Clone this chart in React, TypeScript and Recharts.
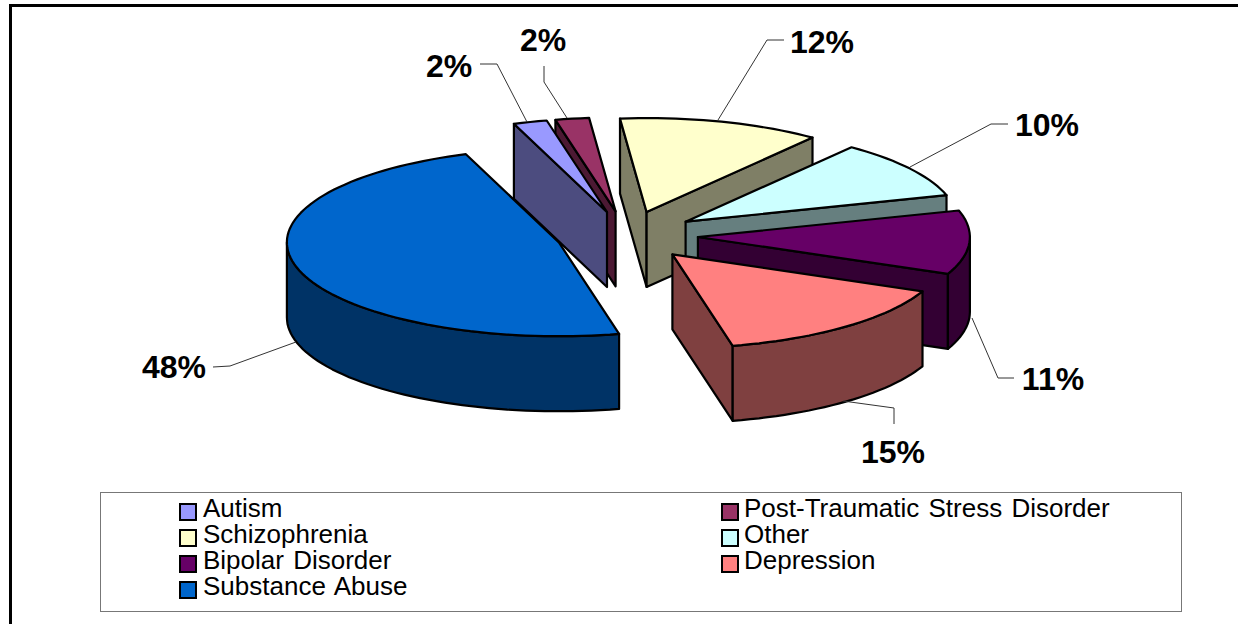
import { Legend, Pie, PieChart } from 'recharts'

// share of clients by primary diagnosis, clockwise from the upper left
const diagnoses = [
  'Autism',
  'Post-Traumatic Stress Disorder',
  'Schizophrenia',
  'Other',
  'Bipolar Disorder',
  'Depression',
  'Substance Abuse',
]
const shares = [2, 2, 12, 10, 11, 15, 48]
const topColors = ['#9999FF', '#993366', '#FFFFCC', '#CCFFFF', '#660066', '#FF8080', '#0066CC']
const wallColors = ['#4C4C7F', '#4C1933', '#7F7F66', '#667F7F', '#330033', '#7F4040', '#003366']

// [text x, text y, then the leader polyline]
const callouts: [number, number, [number, number][]][] = [
  [449, 66, [[480, 64], [497, 64], [527, 122]]],
  [543, 40, [[544, 66], [544, 82], [567, 118]]],
  [822, 42, [[784, 40], [767, 40], [718, 120]]],
  [1047, 125, [[1008, 124], [991, 124], [910, 167]]],
  [1053, 379, [[1014, 378], [998, 378], [972, 318]]],
  [893, 452, [[894, 424], [894, 408], [843, 401]]],
  [174, 367, [[213, 367], [230, 366], [296, 342]]],
]

const rows = diagnoses.map((name, i) => ({ name, value: shares[i], fill: topColors[i], wall: wallColors[i] }))

const FONT = '"Liberation Sans", Arial, sans-serif'
const SQUASH = 0.345 // flattening of the disc
const DEPTH = 75 // disc thickness
const EXPLODE = 71 // how far each slice is pulled out
const BEHIND = 'Post-Traumatic Stress Disorder' // sits behind its neighbour, so it is painted first

type Pt = [number, number]
const toPath = (pts: Pt[]) => 'M' + pts.map(p => `${p[0].toFixed(1)},${p[1].toFixed(1)}`).join('L') + 'Z'
const drop = (pts: Pt[]): Pt[] => [...pts, ...[...pts].reverse().map(p => [p[0], p[1] + DEPTH] as Pt)]

function Slice3D(props: any) {
  const { cx, cy, outerRadius, startAngle, endAngle, payload } = props
  const R = outerRadius
  // Recharts angles run counter-clockwise, screen angles clockwise
  const t0 = -startAngle
  const t1 = -endAngle
  const mid = (t0 + t1) / 2
  const rad = (d: number) => (d * Math.PI) / 180
  const ax = cx + EXPLODE * Math.cos(rad(mid))
  const ay = cy + EXPLODE * SQUASH * Math.sin(rad(mid))
  const at = (t: number): Pt => [ax + R * Math.cos(rad(t)), ay + R * SQUASH * Math.sin(rad(t))]

  const arc = (from: number, to: number) => {
    const pts: Pt[] = []
    const n = Math.max(2, Math.ceil((to - from) / 2))
    for (let i = 0; i <= n; i++) pts.push(at(from + ((to - from) * i) / n))
    return pts
  }

  const apex: Pt = [ax, ay]
  const first = at(t0)
  const last = at(t1)
  const walls: string[] = []
  // a side wall faces the viewer when its edge runs leftwards going clockwise
  if (first[0] < apex[0]) walls.push(toPath(drop([apex, first])))
  if (apex[0] < last[0]) walls.push(toPath(drop([last, apex])))
  // rim is visible only on the front half of the disc
  for (const k of [0, 360]) {
    const from = Math.max(t0, k)
    const to = Math.min(t1, k + 180)
    if (to > from) walls.push(toPath(drop(arc(from, to))))
  }

  return (
    <g stroke="#000" strokeWidth={2.2} strokeLinejoin="round">
      {walls.map((d, i) => <path key={i} d={d} fill={payload.wall} />)}
      <path d={toPath([apex, ...arc(t0, t1)])} fill={payload.fill} />
    </g>
  )
}

const BackSlice = (props: any) => (props.payload.name === BEHIND ? <Slice3D {...props} /> : <g />)
const FrontSlice = (props: any) => (props.payload.name === BEHIND ? <g /> : <Slice3D {...props} />)

function Callout(props: any) {
  const [tx, ty, line] = callouts[props.index]
  return (
    <g>
      <polyline points={line.map(p => p.join(',')).join(' ')} fill="none" stroke="#333" strokeWidth={1} />
      <text x={tx} y={ty} textAnchor="middle" dominantBaseline="central" fontFamily={FONT} fontWeight="bold" fontSize={32} fill="#000">
        {`${props.value}%`}
      </text>
    </g>
  )
}

function DiagnosisLegend() {
  return (
    <div style={{ position: 'relative', width: 1082, height: 120, boxSizing: 'border-box', border: '1px solid #777', background: '#fff', fontFamily: FONT, fontSize: 26, color: '#000' }}>
      {rows.map((r, i) => {
        const col = i % 2
        const row = Math.floor(i / 2)
        return (
          <div key={r.name} style={{ position: 'absolute', left: col ? 620 : 78, top: 2 + row * 26, height: 26, lineHeight: '26px', whiteSpace: 'nowrap' }}>
            <span style={{ position: 'absolute', left: 0, top: 8, width: 14, height: 14, border: '2px solid #000', background: r.fill }} />
            <span style={{ marginLeft: col ? 23 : 24, wordSpacing: 2 }}>{r.name}</span>
          </div>
        )
      })}
    </div>
  )
}

export default function App() {
  const pieProps = {
    data: rows,
    dataKey: 'value',
    nameKey: 'name',
    cx: 627,
    cy: 235.5,
    outerRadius: 272,
    startAngle: 110,
    endAngle: -250,
    isAnimationActive: false,
  }
  return (
    <div style={{ position: 'absolute', left: 0, top: 0, width: 1238, height: 624, overflow: 'hidden', background: '#fff' }}>
      <div style={{ position: 'absolute', left: 9, top: 4, width: 1240, height: 640, boxSizing: 'border-box', borderTop: '3px solid #000', borderLeft: '3px solid #000' }} />
      <PieChart width={1238} height={624} margin={{ top: 0, right: 0, bottom: 0, left: 0 }} style={{ position: 'absolute', left: 0, top: 0 }}>
        <Pie {...pieProps} shape={BackSlice} label={false} labelLine={false} />
        <Pie {...pieProps} shape={FrontSlice} label={Callout} labelLine={false} />
        <Legend content={<DiagnosisLegend />} wrapperStyle={{ position: 'absolute', left: 100, top: 492, width: 1082, bottom: 'auto' }} />
      </PieChart>
    </div>
  )
}
